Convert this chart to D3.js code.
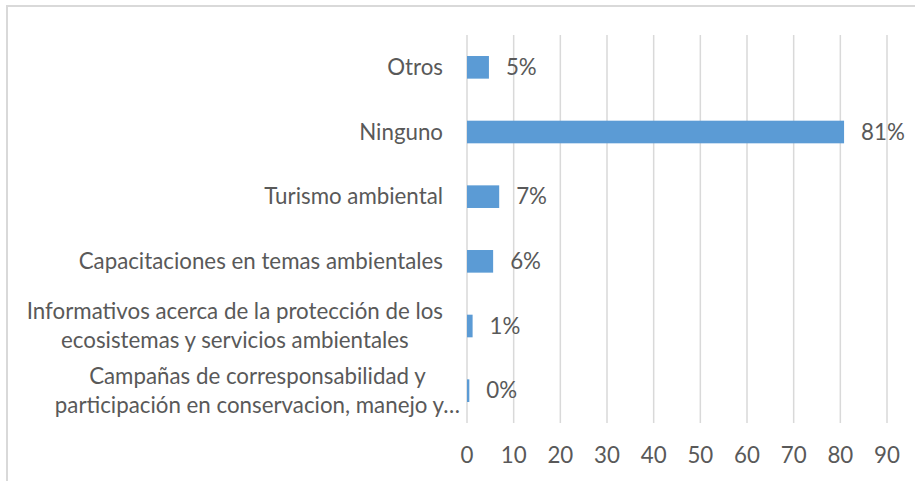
<!DOCTYPE html>
<html><head><meta charset="utf-8">
<script src="https://cdn.jsdelivr.net/npm/d3@7"></script>
<style>
html,body{margin:0;padding:0;background:#fff;}
text{font-family:Lato, "Open Sans", sans-serif;fill:#595959;}
</style></head>
<body><svg id="c" width="915" height="481"></svg>
<script>
const categories = [
  ["Otros"],
  ["Ninguno"],
  ["Turismo ambiental"],
  ["Capacitaciones en temas ambientales"],
  ["Informativos acerca de la protección de los", "ecosistemas y servicios ambientales"],
  ["Campañas de corresponsabilidad y", "participación en conservacion, manejo y…"]
];
const values = [4.7, 80.8, 6.9, 5.6, 1.2, 0.5];
const valueLabels = ["5%", "81%", "7%", "6%", "1%", "0%"];
const xTicks = [0, 10, 20, 30, 40, 50, 60, 70, 80, 90];

const svg = d3.select("#c");
const fs = 22.3;
// outer border
svg.append("path").attr("d","M7,481V6H915").attr("fill","none").attr("stroke","#d9d9d9").attr("stroke-width",2);

const x = d3.scaleLinear().domain([0,90]).range([467,887]);
const y = d3.scaleBand().domain(d3.range(categories.length)).range([35,423]).paddingInner(0.65).paddingOuter(0.325);

// gridlines
svg.append("g").selectAll("line").data(xTicks).join("line")
  .attr("x1",d=>x(d)).attr("x2",d=>x(d)).attr("y1",35).attr("y2",423)
  .attr("stroke","#d9d9d9").attr("stroke-width",1.5);

// bars
svg.append("g").selectAll("rect").data(values).join("rect")
  .attr("x",x(0)).attr("y",(d,i)=>y(i)).attr("width",d=>x(d)-x(0)).attr("height",y.bandwidth())
  .attr("fill","#5b9bd5");

// value labels
svg.append("g").selectAll("text").data(values).join("text")
  .attr("x",d=>x(d)+17).attr("y",(d,i)=>y(i)+y.bandwidth()/2).attr("dy","0.35em")
  .attr("font-size",fs).text((d,i)=>valueLabels[i]);

// x tick labels
svg.append("g").selectAll("text").data(xTicks).join("text")
  .attr("x",d=>x(d)).attr("y",455).attr("dy","0.35em").attr("text-anchor","middle")
  .attr("font-size",fs).text(d=>d);

// category labels
const lh = 29;
const cg = svg.append("g");
categories.forEach((lines,i)=>{
  const cy = y(i)+y.bandwidth()/2;
  const truncated = lines[lines.length-1].endsWith("…");
  const right = truncated ? 460 : 443;
  const t = cg.append("text").attr("font-size",fs).attr("text-anchor","middle");
  const spans = lines.map((l,k)=>t.append("tspan").attr("y",cy+(k-(lines.length-1)/2)*lh).attr("dy","0.35em").text(l));
  const w = d3.max(spans,s=>s.node().getComputedTextLength());
  spans.forEach(s=>s.attr("x",right-w/2));
});
</script></body></html>
